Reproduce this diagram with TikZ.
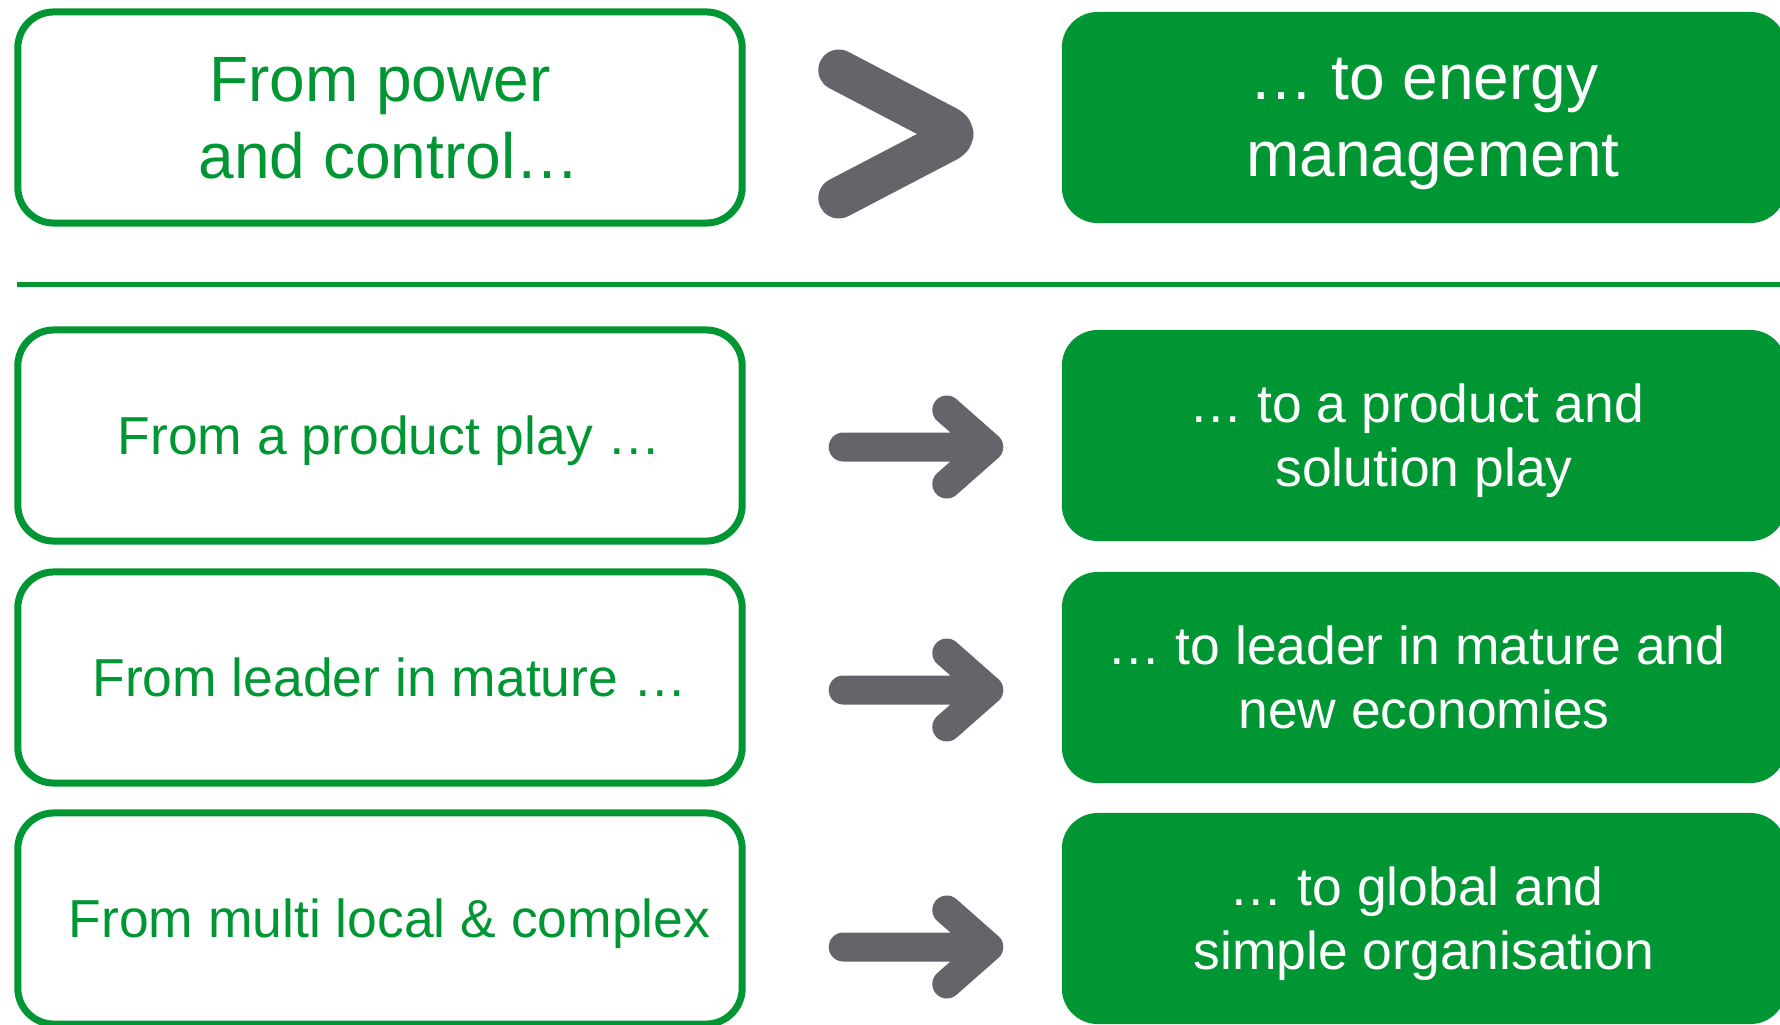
\documentclass[tikz,border=0pt]{standalone}
\usepackage{fontspec}
\setmainfont{Liberation Sans}
\usetikzlibrary{calc}
\definecolor{segreen}{RGB}{0,150,51}
\definecolor{segrey}{RGB}{99,101,106}

\begin{document}
\begin{tikzpicture}[x=0.01cm,y=-0.01cm,
    frombox/.style={draw=segreen,line width=0.07cm,rounded corners=0.36cm,minimum width=7.24cm,minimum height=2.11cm,inner sep=0pt,outer sep=0pt,align=center,text=segreen,text depth=0pt},
    tobox/.style={fill=segreen,rounded corners=0.36cm,minimum width=7.24cm,minimum height=2.11cm,inner sep=0pt,outer sep=0pt,align=center,text=white,text depth=0pt},
    headline/.style={font=\fontsize{18.2}{21.9}\selectfont},
    rowtext/.style={font=\fontsize{15.2}{18.2}\selectfont},
    fat/.style={draw=segrey,line width=0.29cm,line cap=round,line join=round}]
            \useasboundingbox (0,0) rectangle (1780,1024);
            \clip (0,0) rectangle (1780,1024);
            % top pair
            \node[frombox,headline](L0)at(380,117.5){From power\\\hspace*{0.18cm}and control…};
            \node[tobox,headline](R0)at(1424,117.5){… to energy\\\hspace*{0.18cm}management};
            \draw[segreen,line width=0.05cm](17,284.5) -- (1790,284.5);
            % the three rows
            \node[frombox,rowtext](L1)at(380,435.5){\hspace*{0.19cm}From a product play …};
            \node[tobox,rowtext](R1)at(1424,435.5){… to a product and\hspace*{0.15cm}\\solution play};
            \node[frombox,rowtext](L2)at(380,677.5){\hspace*{0.19cm}From leader in mature …};
            \node[tobox,rowtext](R2)at(1424,677.5){… to leader in mature and\hspace*{0.15cm}\\new economies};
            \node[frombox,rowtext](L3)at(380,918.5){\hspace*{0.19cm}From multi local \& complex};
            \node[tobox,rowtext](R3)at(1424,918.5){… to global and\hspace*{0.15cm}\\simple organisation};
            % chevron and arrows
            \draw[fat,line width=0.41cm,rounded corners=0.16cm]($(R0.west)+(-223,-47.5)$) -- ($(R0.west)+(-100.5,16.5)$) -- ($(R0.west)+(-223,80.5)$);
            \draw[fat]($(L1.east)+(101,11.5)$) -- ($(R1.west)+(-73,11.5)$)
            ($(R1.west)+(-115,-25.5)$) -- ($(R1.west)+(-73,11.5)$) -- ($(R1.west)+(-115,48.5)$);
            \draw[fat]($(L2.east)+(101,12.5)$) -- ($(R2.west)+(-73,12.5)$)
            ($(R2.west)+(-115,-24.5)$) -- ($(R2.west)+(-73,12.5)$) -- ($(R2.west)+(-115,49.5)$);
            \draw[fat]($(L3.east)+(101,28.5)$) -- ($(R3.west)+(-73,28.5)$)
            ($(R3.west)+(-115,-8.5)$) -- ($(R3.west)+(-73,28.5)$) -- ($(R3.west)+(-115,65.5)$);
\end{tikzpicture}
\end{document}
